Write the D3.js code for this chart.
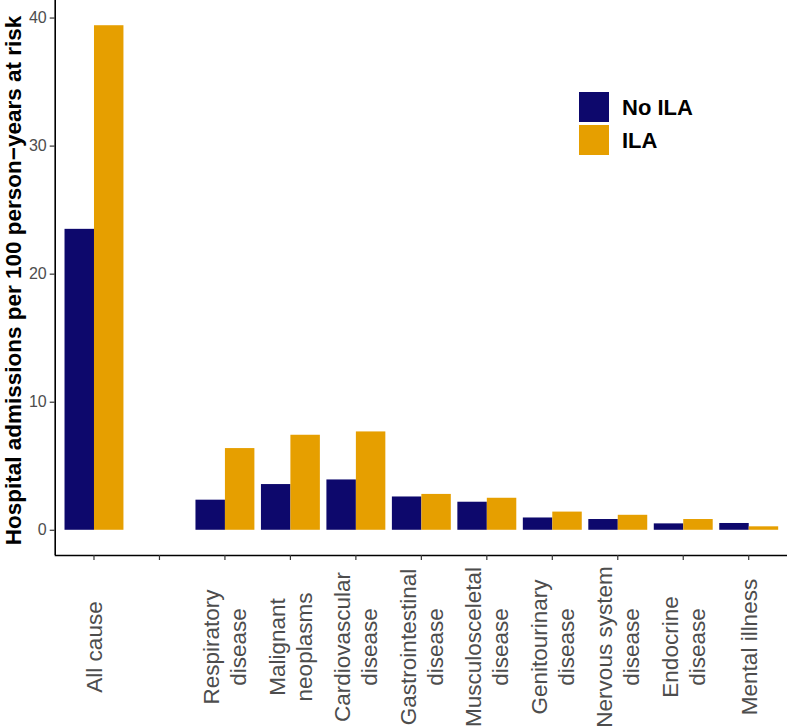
<!DOCTYPE html>
<html>
<head>
<meta charset="utf-8">
<script src="https://cdn.jsdelivr.net/npm/d3@7"></script>
<style>
  html, body { margin: 0; padding: 0; background: #ffffff; }
  svg { display: block; }
</style>
</head>
<body>
<svg id="chart" width="787" height="727"></svg>
<script>
// ---- data ----
const categories = [
  "All cause", "", "Respiratory\ndisease", "Malignant\nneoplasms", "Cardiovascular\ndisease",
  "Gastrointestinal\ndisease", "Musculosceletal\ndisease", "Genitourinary\ndisease",
  "Nervous system\ndisease", "Endocrine\ndisease", "Mental illness"
];
const seriesNames = ["No ILA", "ILA"];
const noILA = [23.5, null, 2.35, 3.57, 3.93, 2.6, 2.19, 0.96, 0.84, 0.5, 0.53];
const ila   = [39.4, null, 6.38, 7.42, 7.68, 2.8, 2.5, 1.42, 1.17, 0.84, 0.27];
const yTicks = [0, 10, 20, 30, 40];
const colors = ["#0d086c", "#E69F00"];

// ---- layout ----
const svg = d3.select("#chart");
const panel = { left: 54.7, right: 788, top: 0, bottom: 555 };

const x = d3.scaleBand()
  .domain(d3.range(categories.length))
  .range([panel.left, panel.right])
  .paddingInner(0.1)
  .paddingOuter(0.15);

const xSub = d3.scaleBand()
  .domain(seriesNames)
  .range([0, x.bandwidth()]);

const yMax = d3.max(ila.concat(noILA));
const y = d3.scaleLinear()
  .domain([-0.05 * yMax, yMax * 1.05])
  .range([panel.bottom, panel.top]);

const color = d3.scaleOrdinal().domain(seriesNames).range(colors);

// ---- bars ----
const rows = categories.map((c, i) => ({ i, values: [noILA[i], ila[i]] }));
const groups = svg.append("g").selectAll("g")
  .data(rows).join("g")
  .attr("transform", d => `translate(${x(d.i)},0)`);

groups.selectAll("rect")
  .data(d => d.values.map((v, k) => ({ key: seriesNames[k], v })).filter(e => e.v != null))
  .join("rect")
  .attr("x", e => xSub(e.key))
  .attr("width", xSub.bandwidth())
  .attr("y", e => y(e.v))
  .attr("height", e => y(0) - y(e.v))
  .attr("fill", e => color(e.key));

// ---- y axis ----
const yAxis = svg.append("g")
  .attr("transform", `translate(${panel.left},0)`)
  .call(d3.axisLeft(y).tickValues(yTicks).tickSize(5).tickPadding(3));
yAxis.select(".domain").attr("stroke", "#000").attr("stroke-width", 1.6)
  .attr("d", `M0.5,${panel.bottom}V${panel.top}`);
yAxis.selectAll(".tick line").attr("stroke", "#333").attr("stroke-width", 1.2);
yAxis.selectAll(".tick text")
  .attr("fill", "#4d4d4d")
  .style("font-family", "'Liberation Sans', Arial, Helvetica, sans-serif")
  .style("font-size", "16px");

// ---- x axis ----
const xAxis = svg.append("g")
  .attr("transform", `translate(0,${panel.bottom})`)
  .call(d3.axisBottom(x).tickSize(5).tickFormat(""));
xAxis.select(".domain").attr("stroke", "#000").attr("stroke-width", 1.6)
  .attr("d", `M${panel.left},0.5H${panel.right}`);
xAxis.selectAll(".tick line").attr("stroke", "#333").attr("stroke-width", 1.2);

xAxis.selectAll(".tick text").remove();
xAxis.selectAll(".tick").each(function(d) {
  const lines = categories[d].split("\n").filter(s => s.length);
  if (!lines.length) return;
  const t = d3.select(this).append("text")
    .attr("transform", "translate(0,92) rotate(-90)")
    .attr("text-anchor", "middle")
    .attr("fill", "#4d4d4d")
    .style("font-family", "'Liberation Sans', Arial, Helvetica, sans-serif")
    .style("font-size", "22.5px");
  const lh = 27;
  lines.forEach((ln, k) => {
    t.append("tspan")
      .attr("x", 0)
      .attr("y", (k - (lines.length - 1) / 2) * lh)
      .attr("dy", "0.35em")
      .text(ln);
  });
});

// ---- y title ----
svg.append("text")
  .attr("transform", `translate(21,${(panel.top + panel.bottom) / 2 + 3}) rotate(-90)`)
  .attr("text-anchor", "middle")
  .attr("fill", "#000")
  .style("font-family", "'Liberation Sans', Arial, Helvetica, sans-serif")
  .style("font-weight", "bold")
  .style("font-size", "22.5px")
  .text("Hospital admissions per 100 person\u2212years at risk");

// ---- legend ----
const legend = svg.append("g").attr("transform", "translate(579,92)");
seriesNames.forEach((s, k) => {
  legend.append("rect")
    .attr("x", 0).attr("y", k * 33)
    .attr("width", 30).attr("height", 30)
    .attr("fill", color(s));
  legend.append("text")
    .attr("x", 43).attr("y", k * 33 + 23)
    .attr("fill", "#000")
    .style("font-family", "'Liberation Sans', Arial, Helvetica, sans-serif")
    .style("font-weight", "bold")
    .style("font-size", "22px")
    .text(s);
});
</script>
</body>
</html>
